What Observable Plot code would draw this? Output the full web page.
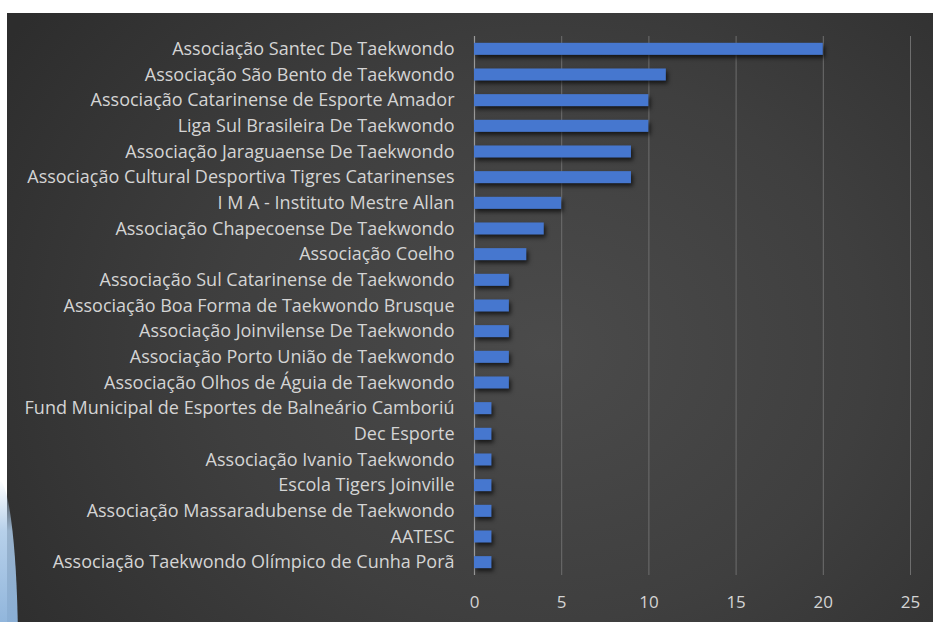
<!DOCTYPE html>
<html>
<head>
<meta charset="utf-8">
<script src="https://cdn.jsdelivr.net/npm/d3@7"></script>
<script src="https://cdn.jsdelivr.net/npm/@observablehq/plot@0.6"></script>
<style>
  html, body { margin: 0; padding: 0; background: #fff; }
  #wrap { position: relative; width: 933px; height: 622px; overflow: hidden; }
  #deco { position: absolute; left: -14px; top: 480px; width: 32px; height: 170px; z-index: 2;
    border-radius: 0 60% 0 0 / 0 100% 0 0;
    background: linear-gradient(to bottom, rgba(180,205,232,0) 0%, rgba(170,200,230,0.85) 30%, #86aed8 100%); }
  #chart { position: absolute; left: 7px; top: 13px; z-index: 1; }
</style>
</head>
<body>
<div id="wrap"><div id="chart"></div><div id="deco"></div></div>
<script>
const categories = [
  "Associação Santec De Taekwondo",
  "Associação São Bento de Taekwondo",
  "Associação Catarinense de Esporte Amador",
  "Liga Sul Brasileira De Taekwondo",
  "Associação Jaraguaense De Taekwondo",
  "Associação Cultural Desportiva Tigres Catarinenses",
  "I M A - Instituto Mestre Allan",
  "Associação Chapecoense De Taekwondo",
  "Associação Coelho",
  "Associação Sul Catarinense de Taekwondo",
  "Associação Boa Forma de Taekwondo Brusque",
  "Associação Joinvilense De Taekwondo",
  "Associação Porto União de Taekwondo",
  "Associação Olhos de Águia de Taekwondo",
  "Fund Municipal de Esportes de Balneário Camboriú",
  "Dec Esporte",
  "Associação Ivanio Taekwondo",
  "Escola Tigers Joinville",
  "Associação Massaradubense de Taekwondo",
  "AATESC",
  "Associação Taekwondo Olímpico de Cunha Porã"
];
const values = [20, 11, 10, 10, 9, 9, 5, 4, 3, 2, 2, 2, 2, 2, 1, 1, 1, 1, 1, 1, 1];
const xTicks = [0, 5, 10, 15, 20, 25];

const data = categories.map((c, i) => ({name: c, value: values[i]}));

const chart = Plot.plot({
  width: 926,
  height: 609,
  marginLeft: 467,
  marginRight: 23,
  marginTop: 23,
  marginBottom: 47,
  style: {
    background: "radial-gradient(ellipse 70% 90% at 58% 55%, #4b4b4b 0%, #3f3f3f 50%, #2d2d2d 100%)",
    fontFamily: "'Open Sans', Lato, sans-serif",
    color: "#d9d9d9"
  },
  x: {domain: [0, 25], ticks: xTicks},
  y: {domain: categories, paddingInner: 0.53, paddingOuter: 0.265, round: false},
  marks: [
    Plot.gridX(xTicks.slice(1), {stroke: "#6e6e6e", strokeOpacity: 1, strokeWidth: 1}),
    Plot.ruleX([0], {stroke: "#9a9a9a", strokeWidth: 1.2}),
    Plot.barX(data, {x: "value", y: "name", fill: "#4677cf"}),
    Plot.axisX({ticks: xTicks, tickSize: 0, tickPadding: 20, fontSize: 17, fill: "#d4d4d4", label: null}),
    Plot.axisY({tickSize: 0, tickPadding: 20, fontSize: 18, fill: "#d4d4d4", label: null})
  ]
});
const barG = chart.querySelector('g[aria-label="bar"]');
if (barG) barG.style.filter = "drop-shadow(2px 3px 2px rgba(0,0,0,0.65))";
document.getElementById("chart").appendChild(chart);
</script>
</body>
</html>
